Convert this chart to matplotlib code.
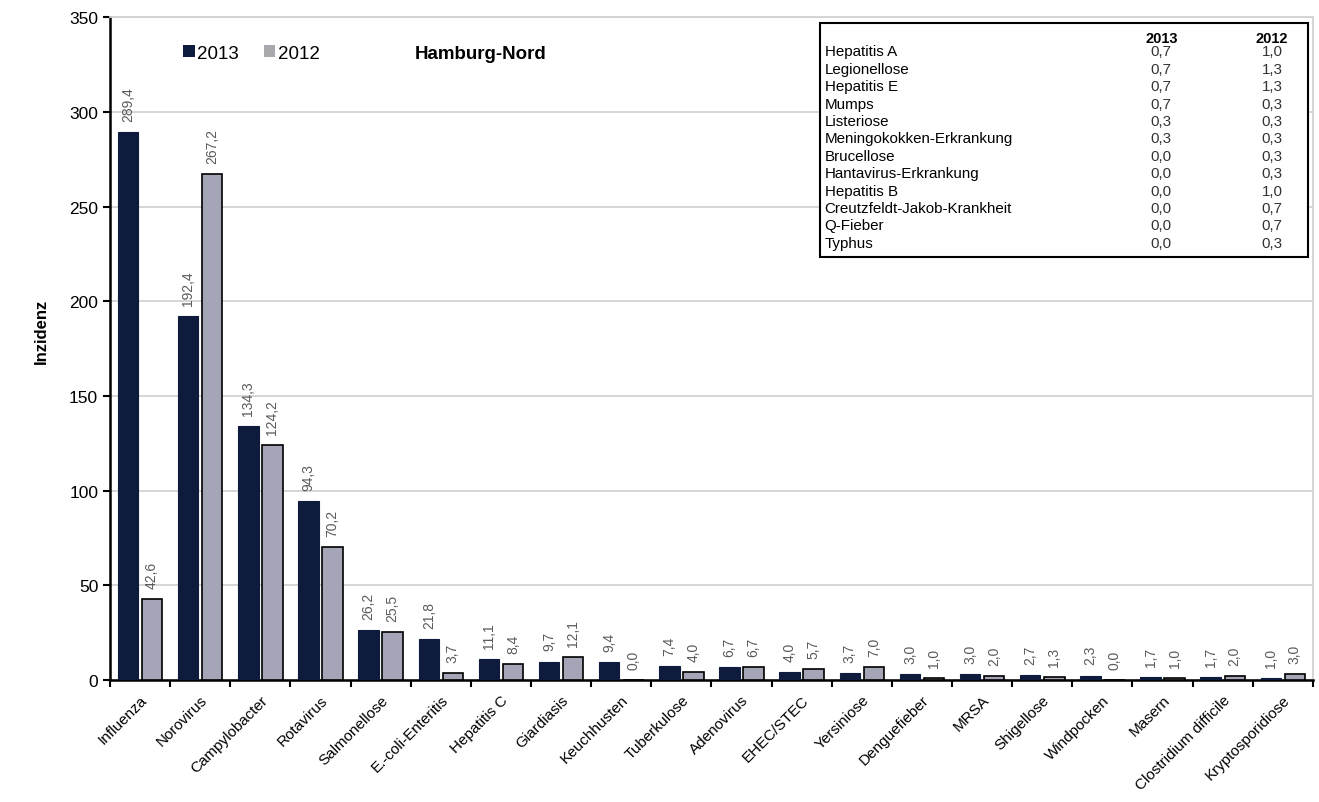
import matplotlib
matplotlib.use("Agg")
import matplotlib.pyplot as plt
import numpy as np
from matplotlib.patches import Rectangle, Patch

plt.rcParams["font.family"] = ["Liberation Sans", "DejaVu Sans"]

# Meldepflichtige Erkrankungen, Inzidenz je 100.000
diseases = [
    "Influenza", "Norovirus", "Campylobacter", "Rotavirus", "Salmonellose",
    "E.-coli-Enteritis", "Hepatitis C", "Giardiasis", "Keuchhusten",
    "Tuberkulose", "Adenovirus", "EHEC/STEC", "Yersiniose", "Denguefieber",
    "MRSA", "Shigellose", "Windpocken", "Masern", "Clostridium difficile",
    "Kryptosporidiose",
]
inc_2013 = [289.4, 192.4, 134.3, 94.3, 26.2, 21.8, 11.1, 9.7, 9.4, 7.4,
            6.7, 4.0, 3.7, 3.0, 3.0, 2.7, 2.3, 1.7, 1.7, 1.0]
inc_2012 = [42.6, 267.2, 124.2, 70.2, 25.5, 3.7, 8.4, 12.1, 0.0, 4.0,
            6.7, 5.7, 7.0, 1.0, 2.0, 1.3, 0.0, 1.0, 2.0, 3.0]

# seltene Erkrankungen (Tabelle)
rare_names = [
    "Hepatitis A", "Legionellose", "Hepatitis E", "Mumps", "Listeriose",
    "Meningokokken-Erkrankung", "Brucellose", "Hantavirus-Erkrankung",
    "Hepatitis B", "Creutzfeldt-Jakob-Krankheit", "Q-Fieber", "Typhus",
]
rare_2013 = [0.7, 0.7, 0.7, 0.7, 0.3, 0.3, 0.0, 0.0, 0.0, 0.0, 0.0, 0.0]
rare_2012 = [1.0, 1.3, 1.3, 0.3, 0.3, 0.3, 0.3, 0.3, 1.0, 0.7, 0.7, 0.3]

dark = "#0f1b3c"
light = "#a4a6b8"


def de(v):
    return f"{v:.1f}".replace(".", ",")


fig = plt.figure(figsize=(13.19, 8.03), dpi=100)
ax = fig.add_axes([0.0834, 0.152, 0.912, 0.825])

x = np.arange(len(diseases))
w = 0.34
b1 = ax.bar(x - 0.2, inc_2013, w, color=dark, edgecolor=dark, linewidth=0.8,
            zorder=3)
b2 = ax.bar(x + 0.2, inc_2012, w, color=light, edgecolor="black", linewidth=1.2,
            zorder=3)

for bars, vals in ((b1, inc_2013), (b2, inc_2012)):
    for bar, v in zip(bars, vals):
        ax.annotate(de(v), (bar.get_x() + bar.get_width() / 2, v),
                    xytext=(0, 8), textcoords="offset points",
                    rotation=90, ha="center", va="bottom",
                    fontsize=10, color="#5a5a5a")

ax.set_xlim(-0.5, len(diseases) - 0.5)
ax.set_ylim(0, 350)
ax.set_yticks(np.arange(0, 351, 50))
ax.yaxis.grid(True, color="#d2d2d2", linewidth=1.3, zorder=0)
ax.set_axisbelow(True)

ax.set_xticks(np.arange(-0.5, len(diseases)), labels=[])
ax.set_xticks(x, labels=diseases, minor=True)
ax.tick_params(axis="x", which="major", length=5, width=1.5, direction="out")
ax.tick_params(axis="x", which="minor", length=0, pad=9)
for lbl in ax.get_xticklabels(minor=True):
    lbl.set_rotation(45)
    lbl.set_ha("right")
    lbl.set_rotation_mode("anchor")
    lbl.set_fontsize(11)
ax.tick_params(axis="y", length=5, width=1.5, labelsize=12.5)

for side in ("left", "bottom"):
    ax.spines[side].set_linewidth(1.8)
    ax.spines[side].set_color("black")
for side in ("top", "right"):
    ax.spines[side].set_color("#d2d2d2")
    ax.spines[side].set_linewidth(1.3)

ax.set_ylabel("Inzidenz", fontsize=12, fontweight="bold")
ax.yaxis.set_label_coords(-0.051, 0.527)

handles = [Patch(facecolor=dark, edgecolor="none"),
           Patch(facecolor="#a9a9ad", edgecolor="none")]
ax.legend(handles, ["2013", "2012"], loc="center left",
          bbox_to_anchor=(0.061, 0.946), ncol=2, frameon=False,
          fontsize=13.5, handlelength=0.6, handleheight=0.6,
          handletextpad=0.15, columnspacing=1.3, borderpad=0, borderaxespad=0)
ax.text(0.253, 0.946, "Hamburg-Nord", transform=ax.transAxes, fontsize=13.5,
        fontweight="bold", va="center", ha="left")

# Tabelle mit seltenen Erkrankungen oben rechts
box_x0, box_x1 = 0.590, 0.996
box_y0, box_y1 = 0.6385, 0.992
ax.add_patch(Rectangle((box_x0, box_y0), box_x1 - box_x0, box_y1 - box_y0,
                       transform=ax.transAxes, facecolor="white",
                       edgecolor="black", linewidth=1.5, zorder=5))
col1, col2 = 0.874, 0.966
ax.text(col1, 0.969, "2013", transform=ax.transAxes, fontsize=10.5,
        fontweight="bold", ha="center", va="center", zorder=6)
ax.text(col2, 0.969, "2012", transform=ax.transAxes, fontsize=10.5,
        fontweight="bold", ha="center", va="center", zorder=6)
row_h = 0.0263
for i, (name, a, b) in enumerate(zip(rare_names, rare_2013, rare_2012)):
    yy = 0.949 - i * row_h
    ax.text(box_x0 + 0.004, yy, name, transform=ax.transAxes, fontsize=10.9,
            ha="left", va="center", zorder=6)
    ax.text(col1, yy, de(a), transform=ax.transAxes, fontsize=10.9,
            ha="center", va="center", color="#333333", zorder=6)
    ax.text(col2, yy, de(b), transform=ax.transAxes, fontsize=10.9,
            ha="center", va="center", color="#333333", zorder=6)

fig.savefig("out.png", dpi=100)
